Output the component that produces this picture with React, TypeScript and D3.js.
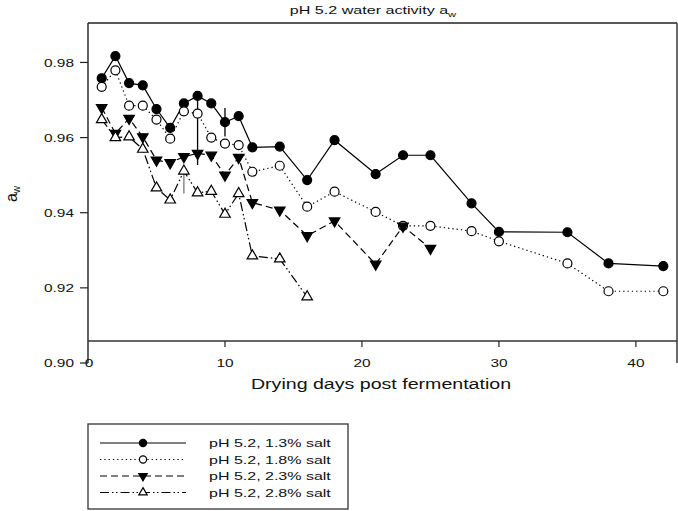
import React from "react";
import * as d3 from "d3";

const daysA = [1, 2, 3, 4, 5, 6, 7, 8, 9, 10, 11, 12, 14, 16, 18, 21, 23, 25, 28, 30, 35, 38, 42];
const aw13 = [0.9758, 0.9817, 0.9745, 0.9739, 0.9676, 0.9626, 0.9691, 0.9711, 0.9691, 0.9641, 0.9657, 0.9574, 0.9576, 0.9487, 0.9593, 0.9503, 0.9553, 0.9553, 0.9425, 0.9349, 0.9348, 0.9265, 0.9258];
const aw18 = [0.9735, 0.9779, 0.9685, 0.9685, 0.9648, 0.9597, 0.967, 0.9664, 0.96, 0.9584, 0.958, 0.9509, 0.9525, 0.9416, 0.9456, 0.9402, 0.9365, 0.9365, 0.9351, 0.9324, 0.9265, 0.9191, 0.9191];
const days23 = [1, 2, 3, 4, 5, 6, 7, 8, 9, 10, 11, 12, 14, 16, 18, 21, 23, 25];
const aw23 = [0.968, 0.9611, 0.9651, 0.9602, 0.954, 0.9533, 0.9549, 0.9558, 0.9553, 0.95, 0.9547, 0.9427, 0.9407, 0.9339, 0.9378, 0.9263, 0.9364, 0.9305];
const days28 = [1, 2, 3, 4, 5, 6, 7, 8, 9, 10, 11, 12, 14, 16];
const aw28 = [0.9648, 0.96, 0.9602, 0.9569, 0.9466, 0.9434, 0.9511, 0.9453, 0.9457, 0.9396, 0.9451, 0.9285, 0.9277, 0.9176];

const errDay = [7, 8, 10];
const errHigh = [0.9511, 0.9705, 0.9679];
const errLow = [0.9451, 0.9527, 0.9603];

const seriesLabels = ["pH 5.2, 1.3% salt", "pH 5.2, 1.8% salt", "pH 5.2, 2.3% salt", "pH 5.2, 2.8% salt"];
const xTicks = [0, 10, 20, 30, 40];
const yTicks = [0.9, 0.92, 0.94, 0.96, 0.98];
const titleText = "pH 5.2 water activity a";
const xAxisLabel = "Drying days post fermentation";

const FONT = "'Liberation Sans', Arial, Helvetica, sans-serif";

function SText({ x, y, anchor = "start", size = 11.5, sx = 1.36, children }: any) {
  return (
    <text
      transform={`translate(${x},${y}) scale(${sx},1)`}
      textAnchor={anchor}
      fontSize={size}
      fontFamily={FONT}
      fill="#111"
    >
      {children}
    </text>
  );
}

type Style = { dash: string | undefined; symbol: "circle" | "tri-down" | "tri-up"; fill: string };
const styles: Style[] = [
  { dash: undefined, symbol: "circle", fill: "#000" },
  { dash: "1.3,3", symbol: "circle", fill: "#fff" },
  { dash: "7,4", symbol: "tri-down", fill: "#000" },
  { dash: "9,3,1.5,2.5,1.5,3", symbol: "tri-up", fill: "#fff" },
];

function Marker({ x, y, st, k = 1 }: { x: number; y: number; st: Style; k?: number }) {
  if (st.symbol === "circle") {
    return <circle cx={x} cy={y} r={4.5 * k} fill={st.fill} stroke="#000" strokeWidth={1.2} />;
  }
  const p = d3.symbol().type(d3.symbolTriangle).size(48 * k * k)() as string;
  const rot = st.symbol === "tri-down" ? 180 : 0;
  return <path d={p} transform={`translate(${x},${y}) rotate(${rot})`} fill={st.fill} stroke="#000" strokeWidth={1.2} />;
}

export default function App() {
  const x = d3.scaleLinear().domain([0, 43]).range([88, 677]);
  const y = d3.scaleLinear().domain([0.9, 0.9905]).range([363, 23]);
  const xAxisY = 341;

  const series = [
    { d: daysA, v: aw13 },
    { d: daysA, v: aw18 },
    { d: days23, v: aw23 },
    { d: days28, v: aw28 },
  ];
  const line = d3
    .line<[number, number]>()
    .x((p) => x(p[0]))
    .y((p) => y(p[1]));

  const errStroke = ["#777", "#000", "#000"];

  return (
    <svg width={678} height={511} style={{ position: "absolute", left: 0, top: 0, background: "#fff" }}>
      <rect x={0} y={0} width={678} height={511} fill="#fff" />
      {/* title */}
      <SText x={373} y={14} anchor="middle" size={11.5} sx={1.4}>
        {titleText}
        <tspan dy={3} fontSize={8}>w</tspan>
      </SText>

      {/* frame */}
      <line x1={x(0)} x2={677} y1={23} y2={23} stroke="#222" strokeWidth={1.4} />
      <line x1={x(0)} x2={x(0)} y1={23} y2={y(0.9)} stroke="#222" strokeWidth={1.4} />
      <line x1={677} x2={677} y1={23} y2={y(0.9)} stroke="#444" strokeWidth={1.6} />
      <line x1={x(0)} x2={677} y1={xAxisY} y2={xAxisY} stroke="#333" strokeWidth={1.4} />

      {/* y ticks */}
      {yTicks.map((t) => (
        <g key={t}>
          <line x1={x(0) - 8} x2={x(0)} y1={y(t)} y2={y(t)} stroke="#222" strokeWidth={1.2} />
          <SText x={74} y={y(t) + 4.2} anchor="end" size={11.5} sx={1.34}>
            {d3.format(".2f")(t)}
          </SText>
        </g>
      ))}
      {/* x ticks */}
      {xTicks.map((t) => (
        <g key={t}>
          {t > 0 && <line x1={x(t)} x2={x(t)} y1={xAxisY} y2={xAxisY + 6} stroke="#222" strokeWidth={1.2} />}
          <SText x={x(t) + (t === 0 ? 1 : 0)} y={367} anchor="middle" size={11.5} sx={1.34}>
            {t}
          </SText>
        </g>
      ))}

      {/* axis labels */}
      <SText x={381} y={389} anchor="middle" size={14} sx={1.4}>
        {xAxisLabel}
      </SText>
      <text transform="translate(17,194) rotate(-90)" textAnchor="middle" fontSize={16} fontFamily={FONT} fill="#111">
        a<tspan dy={3} fontSize={10}>w</tspan>
      </text>

      {/* error bars */}
      {errDay.map((d, i) => (
        <line key={i} x1={x(d)} x2={x(d)} y1={y(errHigh[i])} y2={y(errLow[i])} stroke={errStroke[i]} strokeWidth={1.3} />
      ))}

      {/* series */}
      {series.map((s, i) => {
        const pts = s.d.map((d, j) => [d, s.v[j]] as [number, number]);
        return (
          <g key={i}>
            <path d={line(pts) as string} fill="none" stroke="#000" strokeWidth={1.2} strokeDasharray={styles[i].dash} />
            {pts.map((p, j) => (
              <Marker key={j} x={x(p[0])} y={y(p[1])} st={styles[i]} />
            ))}
          </g>
        );
      })}

      {/* legend */}
      <rect x={88} y={424} width={260} height={85} fill="#fff" stroke="#333" strokeWidth={1.3} />
      {seriesLabels.map((lab, i) => {
        const cy = 443 + i * 16.5;
        return (
          <g key={lab}>
            <line x1={100} x2={186} y1={cy} y2={cy} stroke="#000" strokeWidth={1.2} strokeDasharray={styles[i].dash} />
            <Marker x={143} y={cy} st={styles[i]} k={0.8} />
            <SText x={209} y={cy + 4.3} size={11.6} sx={1.38}>
              {lab}
            </SText>
          </g>
        );
      })}
    </svg>
  );
}
